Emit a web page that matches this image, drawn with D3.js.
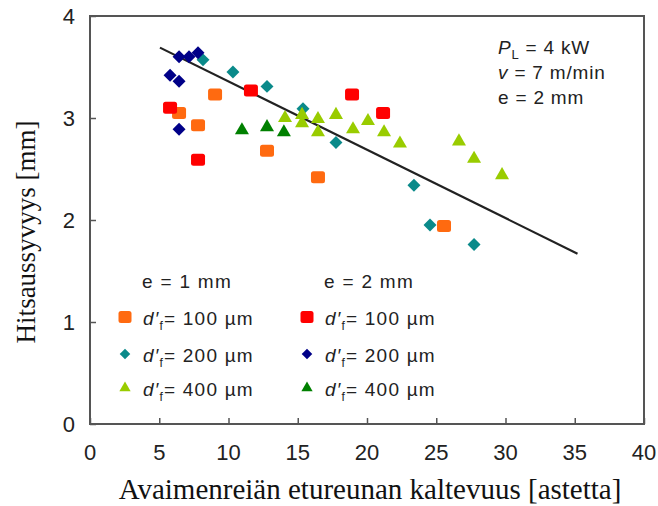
<!DOCTYPE html>
<html>
<head>
<meta charset="utf-8">
<script src="https://cdn.jsdelivr.net/npm/d3@7"></script>
<style>
  body { margin: 0; background: #fff; }
  svg { display: block; }
</style>
</head>
<body>
<div id="fig"></div>
<script>
// e = 1 mm
var e1_100 = [[6.43,3.05],[7.8,2.93],[9.03,3.23],[12.78,2.68],[16.46,2.42],[25.56,1.94]];
var e1_200 = [[8.16,3.57],[10.32,3.45],[12.78,3.31],[15.38,3.09],[17.76,2.76],[23.39,2.34],[24.55,1.95],[27.73,1.76]];
var e1_400 = [[14.08,3.0],[15.31,3.03],[15.31,2.95],[16.46,2.99],[17.76,3.03],[16.46,2.86],[18.99,2.89],
              [20.07,2.97],[21.23,2.86],[22.38,2.75],[26.64,2.77],[27.73,2.6],[29.75,2.44]];
// e = 2 mm
var e2_100 = [[5.78,3.1],[7.8,2.59],[11.62,3.27],[18.92,3.23],[21.16,3.05]];
var e2_200 = [[5.78,3.42],[6.43,3.36],[6.43,3.6],[7.15,3.6],[7.8,3.64],[6.43,2.89]];
var e2_400 = [[10.97,2.88],[12.78,2.91],[14.0,2.86]];

var trendLine = [[5.05,3.69],[35.2,1.67]];

var xTicks = [0,5,10,15,20,25,30,35,40];
var yTicks = [0,1,2,3,4];

var legendHeads = ["e = 1 mm", "e = 2 mm"];
var legendLabels = ["100", "200", "400"];

var W = 658, H = 506;
var svg = d3.select("#fig").append("svg").attr("width", W).attr("height", H);

var x = d3.scaleLinear().domain([0,40]).range([90,644]);
var y = d3.scaleLinear().domain([0,4]).range([424,16]);

var frameCol = "#555";

// frame
svg.append("rect")
  .attr("x", x(0)).attr("y", y(4))
  .attr("width", x(40) - x(0)).attr("height", y(0) - y(4))
  .attr("fill", "none").attr("stroke", frameCol).attr("stroke-width", 2);

// axes, ticks inward
svg.append("g").attr("transform", "translate(0," + y(0) + ")")
  .call(d3.axisTop(x).tickValues(xTicks).tickSize(6).tickFormat(""));
svg.append("g").attr("transform", "translate(" + x(0) + ",0)")
  .call(d3.axisRight(y).tickValues(yTicks).tickSize(6).tickFormat(""));
svg.selectAll(".domain").remove();
svg.selectAll(".tick line").attr("stroke", frameCol).attr("stroke-width", 1.5);

svg.selectAll("text.xt").data(xTicks).enter().append("text")
  .attr("class", "xt")
  .attr("x", function(d) { return x(d); })
  .attr("y", 460)
  .attr("text-anchor", "middle")
  .style("font-family", "Liberation Sans, Arial, sans-serif")
  .style("font-size", "22px")
  .attr("fill", "#222")
  .text(function(d) { return d; });

svg.selectAll("text.yt").data(yTicks).enter().append("text")
  .attr("class", "yt")
  .attr("x", 75)
  .attr("y", function(d) { return y(d); })
  .attr("dy", "0.36em")
  .attr("text-anchor", "end")
  .style("font-family", "Liberation Sans, Arial, sans-serif")
  .style("font-size", "22px")
  .attr("fill", "#222")
  .text(function(d) { return d; });

// axis titles
svg.append("text")
  .attr("x", 370)
  .attr("y", 499)
  .attr("text-anchor", "middle")
  .style("font-family", "Liberation Serif, Times New Roman, serif")
  .style("font-size", "29px")
  .attr("fill", "#111")
  .text("Avaimenreiän etureunan kaltevuus [astetta]");

svg.append("text")
  .attr("transform", "translate(35,232) rotate(-90)")
  .attr("text-anchor", "middle")
  .style("font-family", "Liberation Serif, Times New Roman, serif")
  .style("font-size", "27px")
  .attr("fill", "#111")
  .text("Hitsaussyvyys [mm]");

// trend line
svg.append("path")
  .datum(trendLine)
  .attr("d", d3.line().x(function(d) { return x(d[0]); }).y(function(d) { return y(d[1]); }))
  .attr("stroke", "#222").attr("stroke-width", 2.2).attr("fill", "none");

// markers
function squares(data, col, w, h) {
  return svg.append("g").selectAll("rect").data(data).enter().append("rect")
    .attr("x", function(d) { return x(d[0]) - w / 2; })
    .attr("y", function(d) { return y(d[1]) - h / 2; })
    .attr("width", w).attr("height", h).attr("rx", 2.5)
    .attr("fill", col);
}
function symbols(data, col, type, size, rot) {
  var sym = d3.symbol().type(type).size(size);
  return svg.append("g").selectAll("path").data(data).enter().append("path")
    .attr("transform", function(d) { return "translate(" + x(d[0]) + "," + y(d[1]) + ") rotate(" + rot + ")"; })
    .attr("d", sym)
    .attr("fill", col);
}

var cOrange = "#ff6a10", cRed = "#ff0000", cTeal = "#0a8a8a", cNavy = "#000088",
    cLight = "#99cc00", cDark = "#008000";

squares(e1_100, cOrange, 14, 12);
symbols(e1_200, cTeal, d3.symbolSquare, 84, 45);
symbols(e1_400, cLight, d3.symbolTriangle, 85, 0);
squares(e2_100, cRed, 14, 12);
symbols(e2_200, cNavy, d3.symbolSquare, 84, 45);
symbols(e2_400, cDark, d3.symbolTriangle, 85, 0);

// legend
var lg = svg.append("g")
  .style("font-family", "Liberation Sans, Arial, sans-serif")
  .style("font-size", "19px")
  .attr("fill", "#222");

var colX = [125, 307];
var rowY = [317, 354, 388];
var legendCols = [[cOrange, cTeal, cLight], [cRed, cNavy, cDark]];
var legendShapes = ["sq", d3.symbolSquare, d3.symbolTriangle];

legendHeads.forEach(function(h, i) {
  lg.append("text").attr("x", colX[i] + 17).attr("y", 288)
    .style("letter-spacing", "1.3px").text(h);
});

legendCols.forEach(function(cols, i) {
  cols.forEach(function(c, j) {
    var cx = colX[i], cy = rowY[j];
    if (legendShapes[j] === "sq") {
      lg.append("rect").attr("x", cx - 6.5).attr("y", cy - 6)
        .attr("width", 13).attr("height", 12).attr("rx", 2.5).attr("fill", c);
    } else {
      var s = legendShapes[j] === d3.symbolSquare ? 56 : 55;
      var r = legendShapes[j] === d3.symbolSquare ? 45 : 0;
      lg.append("path")
        .attr("transform", "translate(" + cx + "," + cy + ") rotate(" + r + ")")
        .attr("d", d3.symbol().type(legendShapes[j]).size(s)())
        .attr("fill", c);
    }
    var t = lg.append("text").attr("x", cx + 18).attr("y", cy + 8)
      .style("letter-spacing", "1.2px");
    t.append("tspan").style("font-style", "italic").text("d′");
    t.append("tspan").attr("dy", 5).style("font-size", "12px").text("f");
    t.append("tspan").attr("dy", -5).text("= " + legendLabels[j] + " µm");
  });
});

// conditions note
var note = svg.append("g")
  .style("font-family", "Liberation Sans, Arial, sans-serif")
  .style("font-size", "19px")
  .style("letter-spacing", "0.8px")
  .attr("fill", "#222");
var n1 = note.append("text").attr("x", 498).attr("y", 54);
n1.append("tspan").style("font-style", "italic").text("P");
n1.append("tspan").attr("dy", 5).style("font-size", "13px").text("L");
n1.append("tspan").attr("dy", -5).text(" = 4 kW");
var n2 = note.append("text").attr("x", 498).attr("y", 79);
n2.append("tspan").style("font-style", "italic").text("v");
n2.append("tspan").text(" = 7 m/min");
note.append("text").attr("x", 498).attr("y", 104).text("e = 2 mm");
</script>
</body>
</html>
